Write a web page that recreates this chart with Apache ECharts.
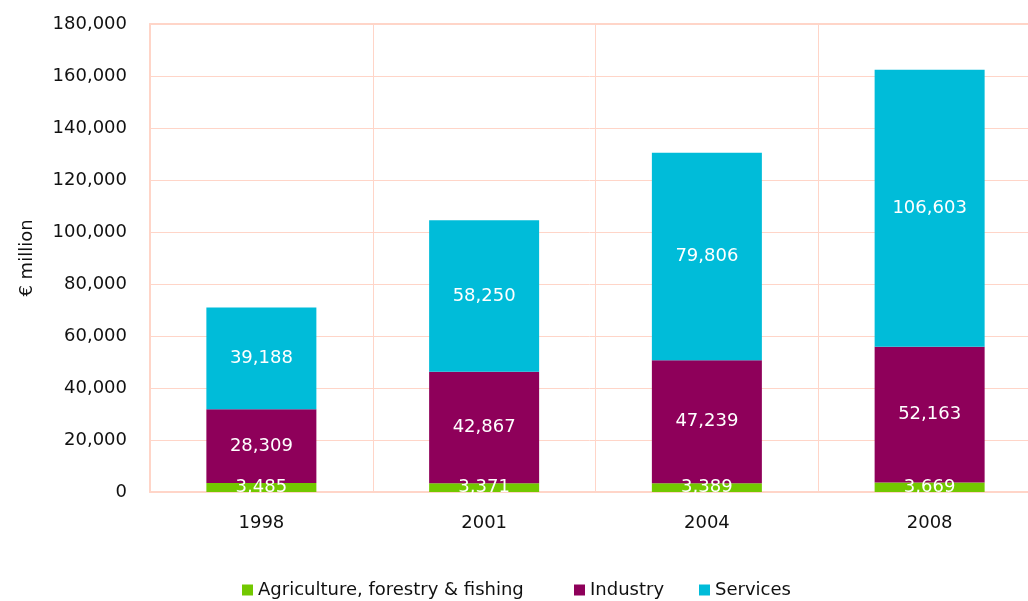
<!DOCTYPE html>
<html>
<head>
<meta charset="utf-8">
<script src="https://cdn.jsdelivr.net/npm/echarts@6/dist/echarts.min.js"></script>
<style>
  html, body { margin: 0; padding: 0; background: #ffffff; overflow: hidden; }
  #chart { width: 1028px; height: 601px; }
</style>
</head>
<body>
<div id="chart"></div>
<script>
// Gross value added by sector, € million
const years = ['1998', '2001', '2004', '2008'];
const agriculture = [3485, 3371, 3389, 3669];
const industry = [28309, 42867, 47239, 52163];
const services = [39188, 58250, 79806, 106603];
const sectorNames = ['Agriculture, forestry & fishing', 'Industry', 'Services'];

const gridColor = '#FFD5C8';
const fontFamily = '"DejaVu Sans", Verdana, sans-serif';
const fmt = v => v.toLocaleString('en-US');

const chart = echarts.init(document.getElementById('chart'), null, { renderer: 'canvas' });

function barSeries(name, data, color) {
  return {
    name: name,
    type: 'bar',
    stack: 'total',
    data: data,
    barWidth: 110,
    itemStyle: { color: color },
    label: {
      show: true,
      position: 'inside',
      color: '#ffffff',
      fontFamily: fontFamily,
      fontSize: 18,
      formatter: p => fmt(p.value)
    },
    emphasis: { disabled: true }
  };
}

// one legend entry per sector, laid out along the bottom row
function legendEntry(name, left) {
  return {
    left: left,
    top: 581,
    padding: 0,
    icon: 'rect',
    itemWidth: 11,
    itemHeight: 11,
    textStyle: { fontFamily: fontFamily, fontSize: 18, color: '#111111' },
    data: [name]
  };
}

chart.setOption({
  animation: false,
  backgroundColor: '#ffffff',
  grid: {
    left: 150,
    top: 24,
    right: -13,
    height: 468,
    show: false,
    outerBoundsMode: 'none',
    containLabel: false
  },
  legend: [
    legendEntry(sectorNames[0], 242),
    legendEntry(sectorNames[1], 574),
    legendEntry(sectorNames[2], 699)
  ],
  xAxis: [
    {
      type: 'category',
      data: years,
      axisTick: { show: false },
      axisLine: { show: true, lineStyle: { color: gridColor, width: 2 } },
      splitLine: {
        show: true,
        // boundaries between the year columns only
        interval: (index) => index > 0 && index < years.length,
        lineStyle: { color: gridColor, width: 1 }
      },
      axisLabel: { margin: 22, color: '#111111', fontFamily: fontFamily, fontSize: 18 }
    },
    {
      // top edge of the plot frame
      type: 'category',
      data: years,
      position: 'top',
      axisTick: { show: false },
      axisLabel: { show: false },
      splitLine: { show: false },
      axisLine: { show: true, lineStyle: { color: gridColor, width: 2 } }
    }
  ],
  yAxis: {
    type: 'value',
    min: 0,
    max: 180000,
    interval: 20000,
    name: '€ million',
    nameLocation: 'middle',
    nameRotate: 90,
    nameGap: 114,
    nameTextStyle: { fontFamily: fontFamily, fontSize: 18, color: '#111111' },
    axisLine: { show: true, lineStyle: { color: gridColor, width: 2 } },
    axisTick: { show: false },
    splitLine: { show: true, lineStyle: { color: gridColor, width: 1 } },
    axisLabel: {
      margin: 23,
      color: '#111111',
      fontFamily: fontFamily,
      fontSize: 18,
      formatter: v => fmt(v)
    }
  },
  series: [
    barSeries(sectorNames[0], agriculture, '#72C800'),
    barSeries(sectorNames[1], industry, '#8E005A'),
    barSeries(sectorNames[2], services, '#00BCD9')
  ]
});
</script>
</body>
</html>
